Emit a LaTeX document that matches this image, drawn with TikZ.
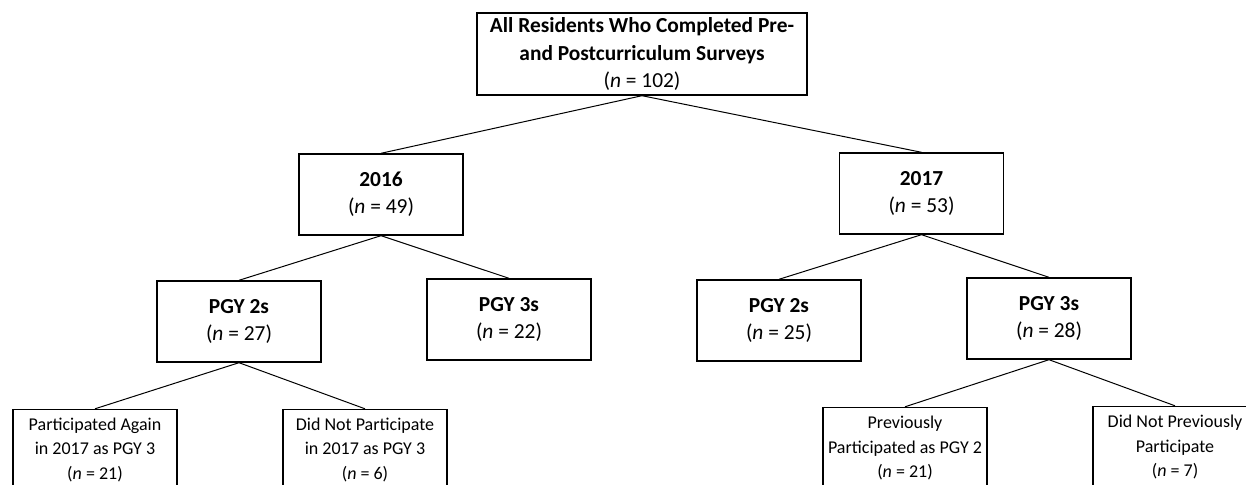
\documentclass[tikz,border=0pt]{standalone}
\usepackage{fontspec}
\setmainfont{Carlito}
\begin{document}
\begin{tikzpicture}[x=0.5pt,y=-0.5pt,
    box/.style={draw,line width=0.7pt,align=center,inner sep=2pt,
      minimum width=82pt,minimum height=40.5pt,font=\fontsize{10.7}{13.6}\selectfont},
    leaf/.style={box,font=\fontsize{9}{12.4}\selectfont},
    link/.style={line width=0.5pt}]
    \useasboundingbox (0,0) rectangle (1246,485);
    \clip (0,0) rectangle (1246,485);

    \node[box,minimum width=165pt,minimum height=41pt] (all) at (642,54)
      {\textbf{All Residents Who Completed Pre-}\\\textbf{and Postcurriculum Surveys}\\(\textit{n} = 102)};
    \node[box] (y16) at (381,194.5) {\textbf{2016}\\(\textit{n} = 49)};
    \node[box] (y17) at (921.5,193.5) {\textbf{2017}\\(\textit{n} = 53)};
    \node[box] (pa2) at (239,321.5) {\textbf{PGY 2s}\\(\textit{n} = 27)};
    \node[box] (pa3) at (509,319.5) {\textbf{PGY 3s}\\(\textit{n} = 22)};
    \node[box] (pb2) at (779,320.5) {\textbf{PGY 2s}\\(\textit{n} = 25)};
    \node[box] (pb3) at (1049,318.5) {\textbf{PGY 3s}\\(\textit{n} = 28)};
    \node[leaf] (again) at (95,450) {Participated Again\\in 2017 as PGY 3\\(\textit{n} = 21)};
    \node[leaf] (notp) at (365,450) {Did Not Participate\\in 2017 as PGY 3\\(\textit{n} = 6)};
    \node[leaf] (prev) at (905,448) {Previously\\Participated as PGY 2\\(\textit{n} = 21)};
    \node[leaf] (notprev) at (1175,447) {Did Not Previously\\Participate\\(\textit{n} = 7)};

    \draw[link] (all.south) -- (y16.north);
    \draw[link] (all.south) -- (y17.north);
    \draw[link] (y16.south) -- (pa2.north);
    \draw[link] (y16.south) -- (pa3.north);
    \draw[link] (y17.south) -- (pb2.north);
    \draw[link] (y17.south) -- (pb3.north);
    \draw[link] (pa2.south) -- (again.north);
    \draw[link] (pa2.south) -- (notp.north);
    \draw[link] (pb3.south) -- (prev.north);
    \draw[link] (pb3.south) -- (notprev.north);
  \end{tikzpicture}
\end{document}
